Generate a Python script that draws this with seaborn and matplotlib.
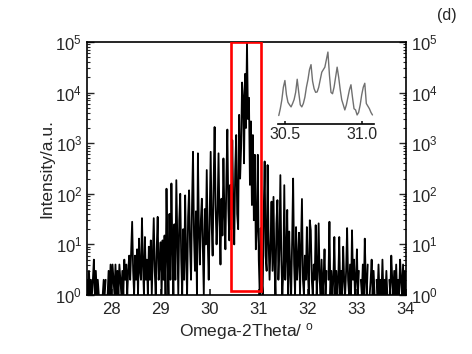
import numpy as np
import pandas as pd
import matplotlib
matplotlib.use("Agg")
import matplotlib.pyplot as plt
from matplotlib.patches import Rectangle
from matplotlib.ticker import LogLocator, FixedLocator
import seaborn as sns

# ---------------- data ----------------
x_start = 27.5
x_step = 0.02
intensity = [
    # 27.50 - 27.98
    2, 1, 3, 1, 2, 1, 2, 5, 1, 3, 1, 2, 1, 0, 0, 0, 1, 2, 1, 2, 0, 1, 3, 1, 4,
    # 28.00 - 28.48
    1, 4, 2, 1, 4, 1, 3, 1, 4, 2, 1, 3, 1, 5, 2, 4, 1, 3, 6, 2, 8, 28, 3, 1, 6,
    # 28.50 - 28.98
    2, 8, 1, 13, 3, 2, 33, 4, 1, 14, 2, 5, 1, 9, 2, 12, 1, 6, 33, 3, 1, 8, 35, 2, 4,
    # 29.00 - 29.48
    11, 1, 12, 2, 15, 1, 126, 6, 1, 40, 2, 160, 8, 1, 25, 2, 186, 12, 1, 30, 100, 5, 1, 20, 2,
    # 29.50 - 29.98
    93, 6, 1, 35, 117, 9, 2, 60, 676, 15, 3, 45, 1, 631, 20, 4, 30, 80, 8, 1, 50, 10, 295, 12, 2,
    # 30.00 - 30.48
    40, 676, 25, 6, 150, 2090, 60, 10, 40, 631, 30, 4, 80, 15, 500, 40, 8, 200, 1860, 50, 12, 150, 20, 1150, 60,
    # 30.50 - 30.98
    10, 300, 1450, 40, 20, 3630, 200, 800, 15800, 8300, 400, 23400, 2000, 100000, 3000, 7900, 150, 2700, 60, 1450, 30, 590, 8, 20, 590,
    # 31.00 - 31.48
    5, 1, 21, 2, 1, 40, 436, 6, 3, 370, 12, 2, 10, 70, 3, 87, 4, 1, 26, 75, 2, 8, 234, 5, 1,
    # 31.50 - 31.98
    3, 148, 2, 6, 48, 1, 18, 3, 1, 12, 200, 4, 1, 22, 2, 5, 17, 1, 9, 79, 2, 1, 6, 2, 22,
    # 32.00 - 32.48
    3, 1, 30, 19, 2, 1, 4, 2, 24, 1, 3, 26, 2, 1, 5, 1, 2, 8, 1, 3, 0, 2, 28, 1, 3,
    # 32.50 - 32.98
    1, 2, 14, 1, 3, 1, 2, 14, 1, 3, 1, 9, 2, 1, 3, 21, 2, 1, 4, 1, 19, 2, 5, 1, 2,
    # 33.00 - 33.48
    8, 1, 3, 0, 2, 1, 4, 1, 13, 2, 1, 4, 0, 1, 2, 5, 1, 3, 1, 0, 2, 1, 4, 1, 2,
    # 33.50 - 34.00
    1, 5, 1, 2, 1, 3, 1, 0, 2, 1, 6, 2, 1, 3, 1, 4, 1, 2, 1, 5, 2, 1, 4, 1, 3, 1,
]
two_theta = np.round(x_start + x_step * np.arange(len(intensity)), 3)

inset_start = 30.46
inset_step = 0.01
inset_intensity = [
    300, 560, 1260, 4000, 7400, 2000, 1000, 800, 660, 900,
    1300, 2500, 8300, 2500, 800, 660, 900, 1600, 4000, 8000,
    20000, 31600, 7000, 3500, 2500, 2600, 4000, 8000, 15850, 19950,
    25100, 50100, 100000, 12000, 2500, 2200, 4000, 10000, 25100, 10000,
    3200, 1260, 800, 500, 790, 1580, 3160, 5010, 1580, 560,
    500, 316, 400, 790, 2000, 3980, 5750, 900, 710, 560,
    400, 316,
]
inset_theta = np.round(inset_start + inset_step * np.arange(len(inset_intensity)), 3)

box_x = (30.43, 31.05)
box_y = (1.2, 1e5)

x_ticks = [28, 29, 30, 31, 32, 33, 34]
inset_ticks = [30.5, 31.0]
inset_tick_labels = ["30.5", "31.0"]

# ---------------- style ----------------
sns.set_theme(style="ticks")
plt.rcParams["font.family"] = ["Liberation Sans", "DejaVu Sans"]
plt.rcParams["mathtext.fontset"] = "custom"
plt.rcParams["mathtext.rm"] = "Liberation Sans"
plt.rcParams["mathtext.it"] = "Liberation Sans:italic"
plt.rcParams["mathtext.default"] = "regular"

fig = plt.figure(figsize=(4.72, 3.54), dpi=100)
ax = fig.add_axes([87 / 472, 1 - 295 / 354, (406 - 87) / 472, (295 - 42) / 354])

df = pd.DataFrame({"theta": two_theta, "I": intensity})
sns.lineplot(data=df, x="theta", y="I", color="black", lw=1.3,
             estimator=None, sort=False, ax=ax)
ax.set_yscale("log", nonpositive="mask")
ax.set_ylim(1, 1e5)
ax.set_xlim(27.5, 34)
ax.set_xticks(x_ticks)

ax.add_patch(Rectangle((box_x[0], box_y[0]), box_x[1] - box_x[0], box_y[1] - box_y[0],
                       fill=False, edgecolor="#ff0000", lw=1.9, zorder=5))

ax.yaxis.set_major_locator(LogLocator(base=10, numticks=10))
ax.yaxis.set_minor_locator(LogLocator(base=10, subs=np.arange(2, 10), numticks=20))
ax.tick_params(axis="y", which="both", direction="in", left=True, right=True,
               labelleft=True, labelright=True, labelsize=12)
ax.tick_params(axis="y", which="major", length=5, width=1)
ax.tick_params(axis="y", which="minor", length=2.5, width=0.8)
ax.tick_params(axis="x", which="major", direction="in", length=4, labelsize=12, pad=5)
ax.tick_params(axis="x", which="minor", bottom=False)
for s in ax.spines.values():
    s.set_linewidth(1.2)
    s.set_color("black")

ax.set_xlabel("Omega-2Theta/ $^{o}$", fontsize=12.5, labelpad=3)
ax.set_ylabel("Intensity/a.u.", fontsize=12.5, labelpad=1)

# ---------------- inset ----------------
ins = fig.add_axes([278 / 472, 1 - 124 / 354, (374 - 278) / 472, (124 - 48) / 354])
dfi = pd.DataFrame({"theta": inset_theta, "I": inset_intensity})
sns.lineplot(data=dfi, x="theta", y="I", color="#707070", lw=1.0,
             estimator=None, sort=False, ax=ins)
ins.set_yscale("log")
ins.set_ylim(138, 1.45e5)
ins.set_xlim(30.455, 31.08)
ins.patch.set_alpha(0)
for side in ["top", "left", "right"]:
    ins.spines[side].set_visible(False)
ins.spines["bottom"].set_linewidth(1.2)
ins.spines["bottom"].set_color("black")
ins.set_yticks([])
ins.yaxis.set_minor_locator(FixedLocator([]))
ins.set_xticks(inset_ticks)
ins.set_xticklabels(inset_tick_labels)
ins.xaxis.set_minor_locator(FixedLocator([]))
ins.tick_params(axis="x", direction="in", length=2, labelsize=11.5, pad=2)
ins.set_xlabel("")
ins.set_ylabel("")

fig.text(0.947, 0.955, "(d)", fontsize=11.5, ha="center", va="center")

fig.savefig("out.png", dpi=100)
